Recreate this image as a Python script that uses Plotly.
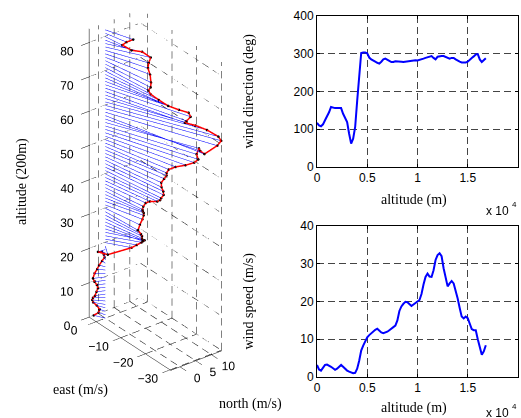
import numpy as np
import plotly.graph_objects as go

# ---------------- data ----------------
altitude_m = np.arange(0, 16801, 200)  # sample altitudes (m)

wind_speed = [3.2, 2.0, 1.7, 2.5, 3.2, 3.3, 3.1, 2.7, 2.3, 1.9,
              2.2, 2.8, 3.2, 2.7, 2.1, 1.7, 1.4, 1.2, 1.0, 1.1,
              2.2, 4.3, 7.0, 8.3, 9.6, 10.5, 11.1, 11.6, 12.1, 12.5,
              12.8, 12.2, 11.8, 11.6, 11.7, 12.0, 12.4, 12.9, 13.2, 13.6,
              15.0, 17.5, 18.7, 19.4, 19.9, 19.8, 19.2, 18.8, 19.2, 19.7,
              20.0, 20.4, 22.0, 24.5, 26.5, 27.4, 26.6, 26.5, 28.3, 31.0,
              32.3, 32.8, 32.0, 28.8, 26.0, 24.0, 24.8, 25.4, 24.8, 23.0,
              20.8, 18.3, 16.0, 15.5, 16.0, 15.6, 14.0, 12.7, 12.4, 12.4,
              10.0, 8.2, 5.9, 6.8, 8.4]

wind_dir = [117, 110, 108, 113, 124, 134, 145, 159, 157, 156,
            156, 156, 156, 141, 128, 119, 88, 62, 75, 106,
            175, 240, 302, 303, 303, 301, 290, 285, 281, 279,
            276, 274, 279, 285, 287, 285, 281, 278, 278, 280,
            280, 280, 279, 278, 279, 279, 279, 280, 282, 283,
            282, 283, 285, 287, 289, 290, 291, 294, 289, 285,
            292, 294, 294, 294, 292, 288, 287, 289, 289, 285,
            281, 279, 277, 276, 277, 279, 285, 289, 293, 298,
            299, 285, 278, 283, 288]

east_ticks = [-30, -20, -10, 0]
north_ticks = [0, 5, 10]
z_ticks = [0, 10, 20, 30, 40, 50, 60, 70, 80]
alt_ticks = [0, 5000, 10000, 15000, 20000]
alt_ticktext = ['0', '0.5', '1', '1.5', '2']

# ---------------- derived ----------------
spd = np.array(wind_speed, float)
rad = np.deg2rad(np.array(wind_dir, float))
east = spd * np.sin(rad)
north = spd * np.cos(rad)
zlev = altitude_m / 200.0

emin, emax = float(min(east.min(), -30)) - 0.3, float(east.max())
nmin, nmax = float(north.min()), float(north.max())
zmin, zmax = 0.0, float(zlev.max())

fig = go.Figure()

# dashed grid on back planes (as in MATLAB), dashes built as short segments
gx, gy, gz = [], [], []
def dashed(p, q, period, frac=0.6):
    p = np.array(p, float); q = np.array(q, float)
    length = float(np.abs(q - p).max())
    t = 0.0
    while t < length:
        a = p + (q - p) * (t / length)
        b = p + (q - p) * (min(t + period * frac, length) / length)
        gx.extend([a[0], b[0], None]); gy.extend([a[1], b[1], None]); gz.extend([a[2], b[2], None])
        t += period
PZ, PE, PN = 3.6, 4.2, 3.7   # dash periods along z, east, north
for e in east_ticks:
    dashed((e, nmin, zmin), (e, nmax, zmin), PN)
    dashed((e, nmax, zmin), (e, nmax, zmax), PZ)
for n in north_ticks:
    dashed((emax, n, zmin), (emin, n, zmin), PE)
    dashed((emax, n, zmin), (emax, n, zmax), PZ)
for zz in z_ticks:
    dashed((emax, nmin, zz), (emax, nmax, zz), PN)
    dashed((emax, nmax, zz), (emin, nmax, zz), PE)
fig.add_trace(go.Scatter3d(x=gx, y=gy, z=gz, mode='lines',
                           line=dict(color='black', width=1),
                           hoverinfo='skip', showlegend=False))

# blue horizontal wind vectors
bx, by, bz = [], [], []
for e, n, zz in zip(east, north, zlev):
    bx.extend([0, e, None]); by.extend([0, n, None]); bz.extend([zz, zz, None])
fig.add_trace(go.Scatter3d(x=bx, y=by, z=bz, mode='lines',
                           line=dict(color='#0000ff', width=1),
                           showlegend=False))
# red tip line and black dots
fig.add_trace(go.Scatter3d(x=east, y=north, z=zlev, mode='lines',
                           line=dict(color='#ff0000', width=3), showlegend=False))
fig.add_trace(go.Scatter3d(x=east, y=north, z=zlev, mode='markers',
                           marker=dict(color='black', size=1.5), showlegend=False))

# right plots
fig.add_trace(go.Scatter(x=altitude_m, y=wind_dir, mode='lines',
                         line=dict(color='#0000ff', width=2), xaxis='x', yaxis='y',
                         showlegend=False))
fig.add_trace(go.Scatter(x=altitude_m, y=wind_speed, mode='lines',
                         line=dict(color='#0000ff', width=2), xaxis='x2', yaxis='y2',
                         showlegend=False))

tickfont = dict(family='Liberation Sans, Arial', size=12, color='black')
serif = dict(family='Liberation Serif, Times New Roman', size=14, color='black')

ax3 = dict(showgrid=False, zeroline=False, showbackground=False, showspikes=False,
           showline=True, linecolor='black', linewidth=1, ticks='outside', ticklen=4,
           tickcolor='black', tickfont=tickfont, tickangle=0, title=dict(text=''))

scale = 1.69
d = np.array([0.687, -0.527, 0.5]) * 2.0
r = np.array([0.609, 0.793, 0.0]); u = np.array([-0.397, 0.304, 0.866])
c = (-2 * r - 7 * u) / 190.0
fig.update_layout(
    width=521, height=418, margin=dict(l=0, r=0, t=0, b=0, pad=0, autoexpand=False),
    paper_bgcolor='white', plot_bgcolor='white',
    scene=dict(
        domain=dict(x=[0, 0.59], y=[0.058, 1]),
        xaxis=dict(ax3, range=[emax, emin], tickvals=east_ticks, ticklen=10),
        yaxis=dict(ax3, range=[nmin, nmax], tickvals=north_ticks, ticklen=10),
        zaxis=dict(ax3, range=[zmin, zmax], tickvals=z_ticks),
        aspectmode='manual',
        aspectratio=dict(x=0.403 * scale, y=0.194 * scale, z=1.0 * scale),
        camera=dict(eye=dict(x=c[0] + d[0], y=c[1] + d[1], z=c[2] + d[2]),
                    up=dict(x=0, y=0, z=1), center=dict(x=c[0], y=c[1], z=c[2]),
                    projection=dict(type='orthographic')),
    ),
)

ax2 = dict(showline=True, mirror='ticks', linecolor='black', linewidth=1,
           ticks='inside', ticklen=3, tickcolor='black', tickfont=tickfont,
           showgrid=True, gridcolor='#444444', griddash='7px,4px', gridwidth=1,
           zeroline=False, automargin=False)
fig.update_layout(
    xaxis=dict(ax2, domain=[0.6084, 0.9942], anchor='y', range=[0, 20000],
               tickvals=alt_ticks, ticktext=alt_ticktext),
    yaxis=dict(ax2, domain=[0.6005, 0.9617], anchor='x', range=[0, 400],
               tickvals=[0, 100, 200, 300, 400]),
    xaxis2=dict(ax2, domain=[0.6084, 0.9942], anchor='y2', range=[0, 20000],
                tickvals=alt_ticks, ticktext=alt_ticktext),
    yaxis2=dict(ax2, domain=[0.0981, 0.4593], anchor='x2', range=[0, 40],
                tickvals=[0, 10, 20, 30, 40]),
)

ann = [
    dict(text='wind direction (deg)', x=248, y=91.5, textangle=-90),
    dict(text='wind speed (m/s)', x=248, y=301.5, textangle=-90),
    dict(text='altitude (m)', x=414, y=200),
    dict(text='altitude (m)', x=414, y=408),
    dict(text='altitude (200m)', x=22, y=182, textangle=-90),
    dict(text='east (m/s)', x=80, y=390),
    dict(text='north (m/s)', x=250, y=404),
]
annotations = []
for a in ann:
    annotations.append(dict(text=a['text'], x=a['x'] / 521, y=1 - a['y'] / 418,
                            xref='paper', yref='paper', showarrow=False,
                            textangle=a.get('textangle', 0), font=serif,
                            xanchor='center', yanchor='middle'))
for yy in (211, 413):
    annotations.append(dict(text='x 10', x=497 / 521, y=1 - yy / 418,
                            xref='paper', yref='paper', showarrow=False,
                            font=tickfont, xanchor='center', yanchor='middle'))
    annotations.append(dict(text='4', x=514 / 521, y=1 - (yy - 7) / 418,
                            xref='paper', yref='paper', showarrow=False,
                            font=dict(tickfont, size=8), xanchor='center', yanchor='middle'))
fig.update_layout(annotations=annotations)

fig.write_html('out.html', config={'displayModeBar': False},
               post_script="document.body.style.margin='0';document.body.style.overflow='hidden';")
